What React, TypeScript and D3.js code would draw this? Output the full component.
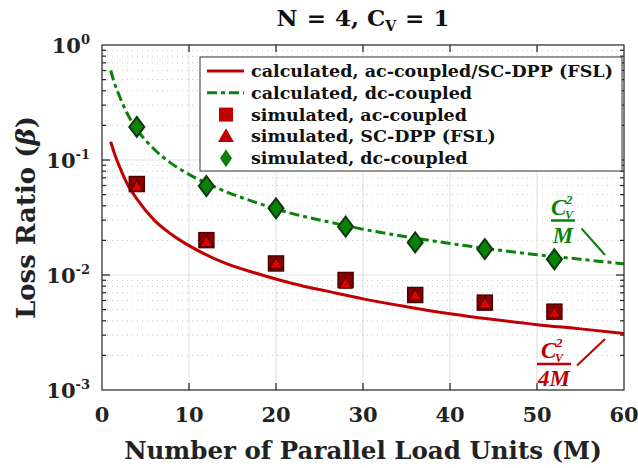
import React, { useEffect, useRef } from 'react';
import * as d3 from 'd3';

// calculated curves
const calcM = [1, 1.5, 2, 3, 4, 6, 8, 10, 14, 18, 22, 26, 30, 35, 40, 45, 50, 55, 60];
const calcAc = [0.144, 0.11, 0.088, 0.06, 0.046, 0.03, 0.0225, 0.018, 0.0128, 0.0102, 0.0084, 0.0072, 0.0062, 0.0053, 0.0046, 0.0041, 0.0037, 0.0034, 0.0031];
const calcDc = [0.6, 0.45, 0.36, 0.245, 0.185, 0.124, 0.093, 0.075, 0.054, 0.042, 0.034, 0.029, 0.025, 0.0215, 0.0188, 0.0167, 0.015, 0.0137, 0.0125];

// simulated points
const simM = [4, 12, 20, 28, 36, 44, 52];
const simAc = [0.0618, 0.0201, 0.0126, 0.00905, 0.0067, 0.00575, 0.0048];
const simScdpp = [0.06, 0.0198, 0.0128, 0.0086, 0.0068, 0.0058, 0.0048];
const simDc = [0.194, 0.0594, 0.038, 0.0263, 0.0192, 0.0168, 0.0137];

const xTicks = [0, 10, 20, 30, 40, 50, 60];
const yTicks = [1, 0.1, 0.01, 0.001];
const yTickExp = ['0', '-1', '-2', '-3'];

const legendLabels = [
  'calculated, ac-coupled/SC-DPP (FSL)',
  'calculated, dc-coupled',
  'simulated, ac-coupled',
  'simulated, SC-DPP (FSL)',
  'simulated, dc-coupled',
];

const RED = '#c00000';
const DRED = '#500000';
const GREEN = '#0a820a';
const DGREEN = '#0b3a0b';
const FONT = '"DejaVu Serif", "Liberation Serif", serif';

const App = () => {
  const ref = useRef<SVGSVGElement>(null);

  useEffect(() => {
    const svg = d3.select(ref.current);
    svg.selectAll('*').remove();

    const margin = { top: 45, right: 14, bottom: 78, left: 102 };
    const width = 638 - margin.left - margin.right;
    const height = 468 - margin.top - margin.bottom;

    const x = d3.scaleLinear().domain([0, 60]).range([0, width]);
    const y = d3.scaleLog().domain([0.001, 1]).range([height, 0]);

    const g = svg.append('g').attr('transform', `translate(${margin.left},${margin.top})`);

    // minor log values
    const minors: number[] = [];
    [0.001, 0.01, 0.1].forEach(d => {
      for (let k = 2; k <= 9; k++) minors.push(d * k);
    });

    // grid
    g.selectAll('.minorgrid').data(minors).enter().append('line')
      .attr('x1', 0).attr('x2', width)
      .attr('y1', d => y(d)).attr('y2', d => y(d))
      .attr('stroke', '#c4c4c4').attr('stroke-width', 1)
      .attr('stroke-dasharray', '1,4');
    g.selectAll('.hgrid').data([0.1, 0.01]).enter().append('line')
      .attr('x1', 0).attr('x2', width)
      .attr('y1', d => y(d)).attr('y2', d => y(d))
      .attr('stroke', '#e3e3e3').attr('stroke-width', 1.2);
    g.selectAll('.vgrid').data(xTicks.slice(1, -1)).enter().append('line')
      .attr('x1', d => x(d)).attr('x2', d => x(d))
      .attr('y1', 0).attr('y2', height)
      .attr('stroke', '#e3e3e3').attr('stroke-width', 1.2);

    // curves
    const line = d3.line<[number, number]>()
      .x(d => x(d[0]))
      .y(d => y(d[1]))
      .curve(d3.curveMonotoneX);

    g.append('path')
      .attr('d', line(calcM.map((m, i) => [m, calcAc[i]])))
      .attr('fill', 'none').attr('stroke', RED).attr('stroke-width', 3);
    g.append('path')
      .attr('d', line(calcM.map((m, i) => [m, calcDc[i]])))
      .attr('fill', 'none').attr('stroke', GREEN).attr('stroke-width', 3)
      .attr('stroke-dasharray', '10,4,4,4');

    // markers
    const sq = 15;
    g.selectAll('.sq').data(simM).enter().append('rect')
      .attr('x', d => x(d) - sq / 2)
      .attr('y', (d, i) => y(simAc[i]) - sq / 2)
      .attr('width', sq).attr('height', sq)
      .attr('fill', '#8a0000').attr('stroke', DRED).attr('stroke-width', 1.5);
    const tri = d3.symbol().type(d3.symbolTriangle).size(68);
    g.selectAll('.tri').data(simM).enter().append('path')
      .attr('d', tri)
      .attr('transform', (d, i) => `translate(${x(d)},${y(simScdpp[i]) + 2})`)
      .attr('fill', '#e20000').attr('stroke', DRED).attr('stroke-width', 1.2);
    const diamond = (cx: number, cy: number, w: number, h: number) =>
      `M${cx},${cy - h / 2}L${cx + w / 2},${cy}L${cx},${cy + h / 2}L${cx - w / 2},${cy}Z`;
    g.selectAll('.dia').data(simM).enter().append('path')
      .attr('d', (d, i) => diamond(x(d), y(simDc[i]), 15, 20))
      .attr('fill', GREEN).attr('stroke', DGREEN).attr('stroke-width', 2);

    // axes box and ticks
    g.append('rect').attr('width', width).attr('height', height)
      .attr('fill', 'none').attr('stroke', '#222').attr('stroke-width', 1.2);
    const tickG = g.append('g').attr('stroke', '#222').attr('stroke-width', 1.2);
    xTicks.slice(1, -1).forEach(t => {
      tickG.append('line').attr('x1', x(t)).attr('x2', x(t)).attr('y1', height).attr('y2', height - 7);
      tickG.append('line').attr('x1', x(t)).attr('x2', x(t)).attr('y1', 0).attr('y2', 7);
    });
    yTicks.slice(1, -1).forEach(t => {
      tickG.append('line').attr('x1', 0).attr('x2', 8).attr('y1', y(t)).attr('y2', y(t));
      tickG.append('line').attr('x1', width).attr('x2', width - 8).attr('y1', y(t)).attr('y2', y(t));
    });
    minors.forEach(t => {
      tickG.append('line').attr('x1', 0).attr('x2', 4).attr('y1', y(t)).attr('y2', y(t));
      tickG.append('line').attr('x1', width).attr('x2', width - 4).attr('y1', y(t)).attr('y2', y(t));
    });

    // tick labels
    g.selectAll('.xl').data(xTicks).enter().append('text')
      .attr('x', d => x(d)).attr('y', height + 32)
      .attr('text-anchor', 'middle')
      .style('font-family', FONT).style('font-size', '21px').style('font-weight', 'bold')
      .attr('fill', '#222')
      .text(d => d);
    yTicks.forEach((t, i) => {
      const txt = g.append('text')
        .attr('x', -12).attr('y', y(t) + 8)
        .attr('text-anchor', 'end')
        .style('font-family', FONT).style('font-size', '21px').style('font-weight', 'bold')
        .attr('fill', '#222');
      txt.append('tspan').text('10');
      txt.append('tspan').attr('dy', -9).style('font-size', '13px').text(yTickExp[i]);
    });

    // axis labels
    g.append('text')
      .attr('x', width / 2).attr('y', height + 69)
      .attr('text-anchor', 'middle')
      .style('font-family', FONT).style('font-size', '24.5px').style('font-weight', 'bold')
      .attr('fill', '#222')
      .text('Number of Parallel Load Units (M)');
    const yl = g.append('text')
      .attr('transform', `translate(${-67},${height / 2}) rotate(-90)`)
      .attr('text-anchor', 'middle')
      .style('font-family', FONT).style('font-size', '26px').style('font-weight', 'bold')
      .attr('fill', '#222');
    yl.append('tspan').text('Loss Ratio (');
    yl.append('tspan').style('font-style', 'italic').text('β');
    yl.append('tspan').text(')');

    // title
    const title = svg.append('text')
      .attr('x', margin.left + width / 2).attr('y', 26)
      .attr('text-anchor', 'middle')
      .style('font-family', FONT).style('font-size', '23px').style('font-weight', 'bold')
      .attr('fill', '#111');
    title.append('tspan').text('N');
    title.append('tspan').attr('dx', 9).text('=');
    title.append('tspan').attr('dx', 9).text('4,');
    title.append('tspan').attr('dx', 8).text('C');
    title.append('tspan').attr('dy', 5).style('font-size', '14px').text('V');
    title.append('tspan').attr('dy', -5).attr('dx', 9).text('=');
    title.append('tspan').attr('dx', 9).text('1');

    // legend
    const lg = svg.append('g').attr('transform', 'translate(200,57)');
    lg.append('rect').attr('width', 422).attr('height', 114)
      .attr('fill', 'white').attr('stroke', '#333').attr('stroke-width', 1);
    const rowY = (i: number) => 14 + i * 21.8;
    lg.append('line').attr('x1', 7).attr('x2', 44).attr('y1', rowY(0)).attr('y2', rowY(0))
      .attr('stroke', RED).attr('stroke-width', 3);
    lg.append('line').attr('x1', 7).attr('x2', 44).attr('y1', rowY(1)).attr('y2', rowY(1))
      .attr('stroke', GREEN).attr('stroke-width', 3).attr('stroke-dasharray', '10,4,4,4');
    lg.append('rect').attr('x', 26 - 7).attr('y', rowY(2) - 7).attr('width', 14).attr('height', 14)
      .attr('fill', RED);
    lg.append('path').attr('d', d3.symbol().type(d3.symbolTriangle).size(110))
      .attr('transform', `translate(26,${rowY(3) + 1})`).attr('fill', RED);
    lg.append('path').attr('d', diamond(26, rowY(4), 12, 18)).attr('fill', GREEN);
    legendLabels.forEach((l, i) => {
      lg.append('text').attr('x', 51).attr('y', rowY(i) + 6)
        .style('font-family', FONT).style('font-size', '17.5px').style('font-weight', 'bold')
        .attr('fill', '#111')
        .text(l);
    });

    // annotations
    const ann = (left: number, barY: number, den: string, color: string, bw: number, cdx: number) => {
      const a = svg.append('g').attr('fill', color)
        .style('font-family', '"Liberation Serif", serif').style('font-weight', 'bold').style('font-style', 'italic');
      a.append('text').attr('x', left + cdx).attr('y', barY - 6).style('font-size', '23px').text('C');
      a.append('text').attr('x', left + cdx + 15).attr('y', barY - 17).style('font-size', '13px').text('2');
      a.append('text').attr('x', left + cdx + 14).attr('y', barY - 2).style('font-size', '12px').text('V');
      a.append('line').attr('x1', left).attr('x2', left + bw).attr('y1', barY).attr('y2', barY)
        .attr('stroke', color).attr('stroke-width', 2.5);
      a.append('text').attr('x', left + bw / 2).attr('y', barY + 22).attr('text-anchor', 'middle')
        .style('font-size', '23px').text(den);
    };
    ann(551, 220.5, 'M', GREEN, 24, 0);
    ann(537, 364, '4M', RED, 34, 4);
    svg.append('line').attr('x1', 581.5).attr('y1', 228.5).attr('x2', 605).attr('y2', 255)
      .attr('stroke', GREEN).attr('stroke-width', 2);
    svg.append('line').attr('x1', 577).attr('y1', 365.5).attr('x2', 605).attr('y2', 339)
      .attr('stroke', RED).attr('stroke-width', 2);
  }, []);

  return (
    <svg ref={ref} width={638} height={468}
      style={{ position: 'absolute', left: 0, top: 0, background: 'white' }} />
  );
};

export default App;
